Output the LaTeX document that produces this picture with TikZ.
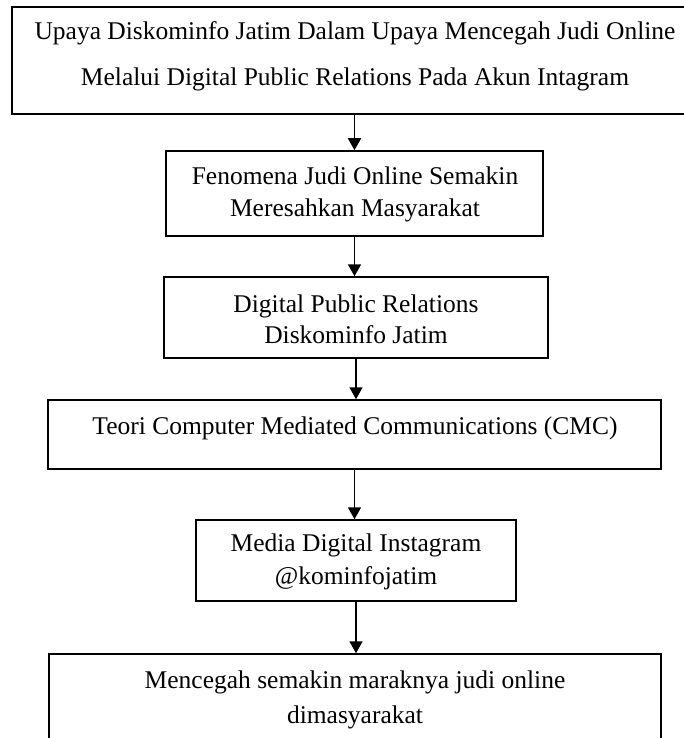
\documentclass[tikz,border=0pt]{standalone}
\usepackage{fontspec}
\setmainfont{Liberation Serif}
\usetikzlibrary{arrows.meta}

\tikzset{
  box/.style={draw, line width=1.5pt, inner sep=0pt},
  txt/.style={inner sep=0pt, align=center, font=\fontsize{25.5}{32}\selectfont},
  arr/.style={line width=1.6pt, -{Triangle[length=12pt,width=13pt]}}
}

\begin{document}
\begin{tikzpicture}[x=1pt,y=-1pt]
\useasboundingbox (0,0) rectangle (684,738);

% boxes
\node[box, minimum width=678pt, minimum height=107pt] (b1) at (351,60.5) {};
\node[box, minimum width=377pt, minimum height=85pt] (b2) at (354.5,193.5) {};
\node[box, minimum width=384pt, minimum height=81pt] (b3) at (356,317.5) {};
\node[box, minimum width=613pt, minimum height=69pt] (b4) at (354.5,434.5) {};
\node[box, minimum width=320pt, minimum height=81pt] (b5) at (356,560.5) {};
\node[box, minimum width=612pt, minimum height=96pt] (b6) at (355,702) {};

% texts
\node[txt, font=\fontsize{25.5}{46}\selectfont] (t1) at (355,56)
  {Upaya Diskominfo Jatim Dalam Upaya Mencegah Judi Online\\Melalui Digital Public Relations Pada Akun Intagram};
\node[txt] (t2) at (355,194) {Fenomena Judi Online Semakin\\Meresahkan Masyarakat};
\node[txt, font=\fontsize{25.5}{31}\selectfont] (t3) at (356,319) {Digital Public Relations\\Diskominfo Jatim};
\node[txt] (t4) at (355,428) {Teori Computer Mediated Communications (CMC)};
\node[txt, font=\fontsize{25.5}{33}\selectfont] (t5) at (356,562) {Media Digital Instagram\\@kominfojatim};
\node[txt, font=\fontsize{25.5}{35}\selectfont] (t6) at (355,700) {Mencegah semakin maraknya judi online\\dimasyarakat};

% arrows
\draw[arr] (b1.south -| b2.north) -- (b2.north);
\draw[arr] (b2.south) -- (b2.south |- b3.north);
\draw[arr] (b3.south) -- (b3.south |- b4.north);
\draw[arr] (b4.south) -- (b4.south |- b5.north);
\draw[arr] (b5.south) -- (b5.south |- b6.north);
\end{tikzpicture}
\end{document}
